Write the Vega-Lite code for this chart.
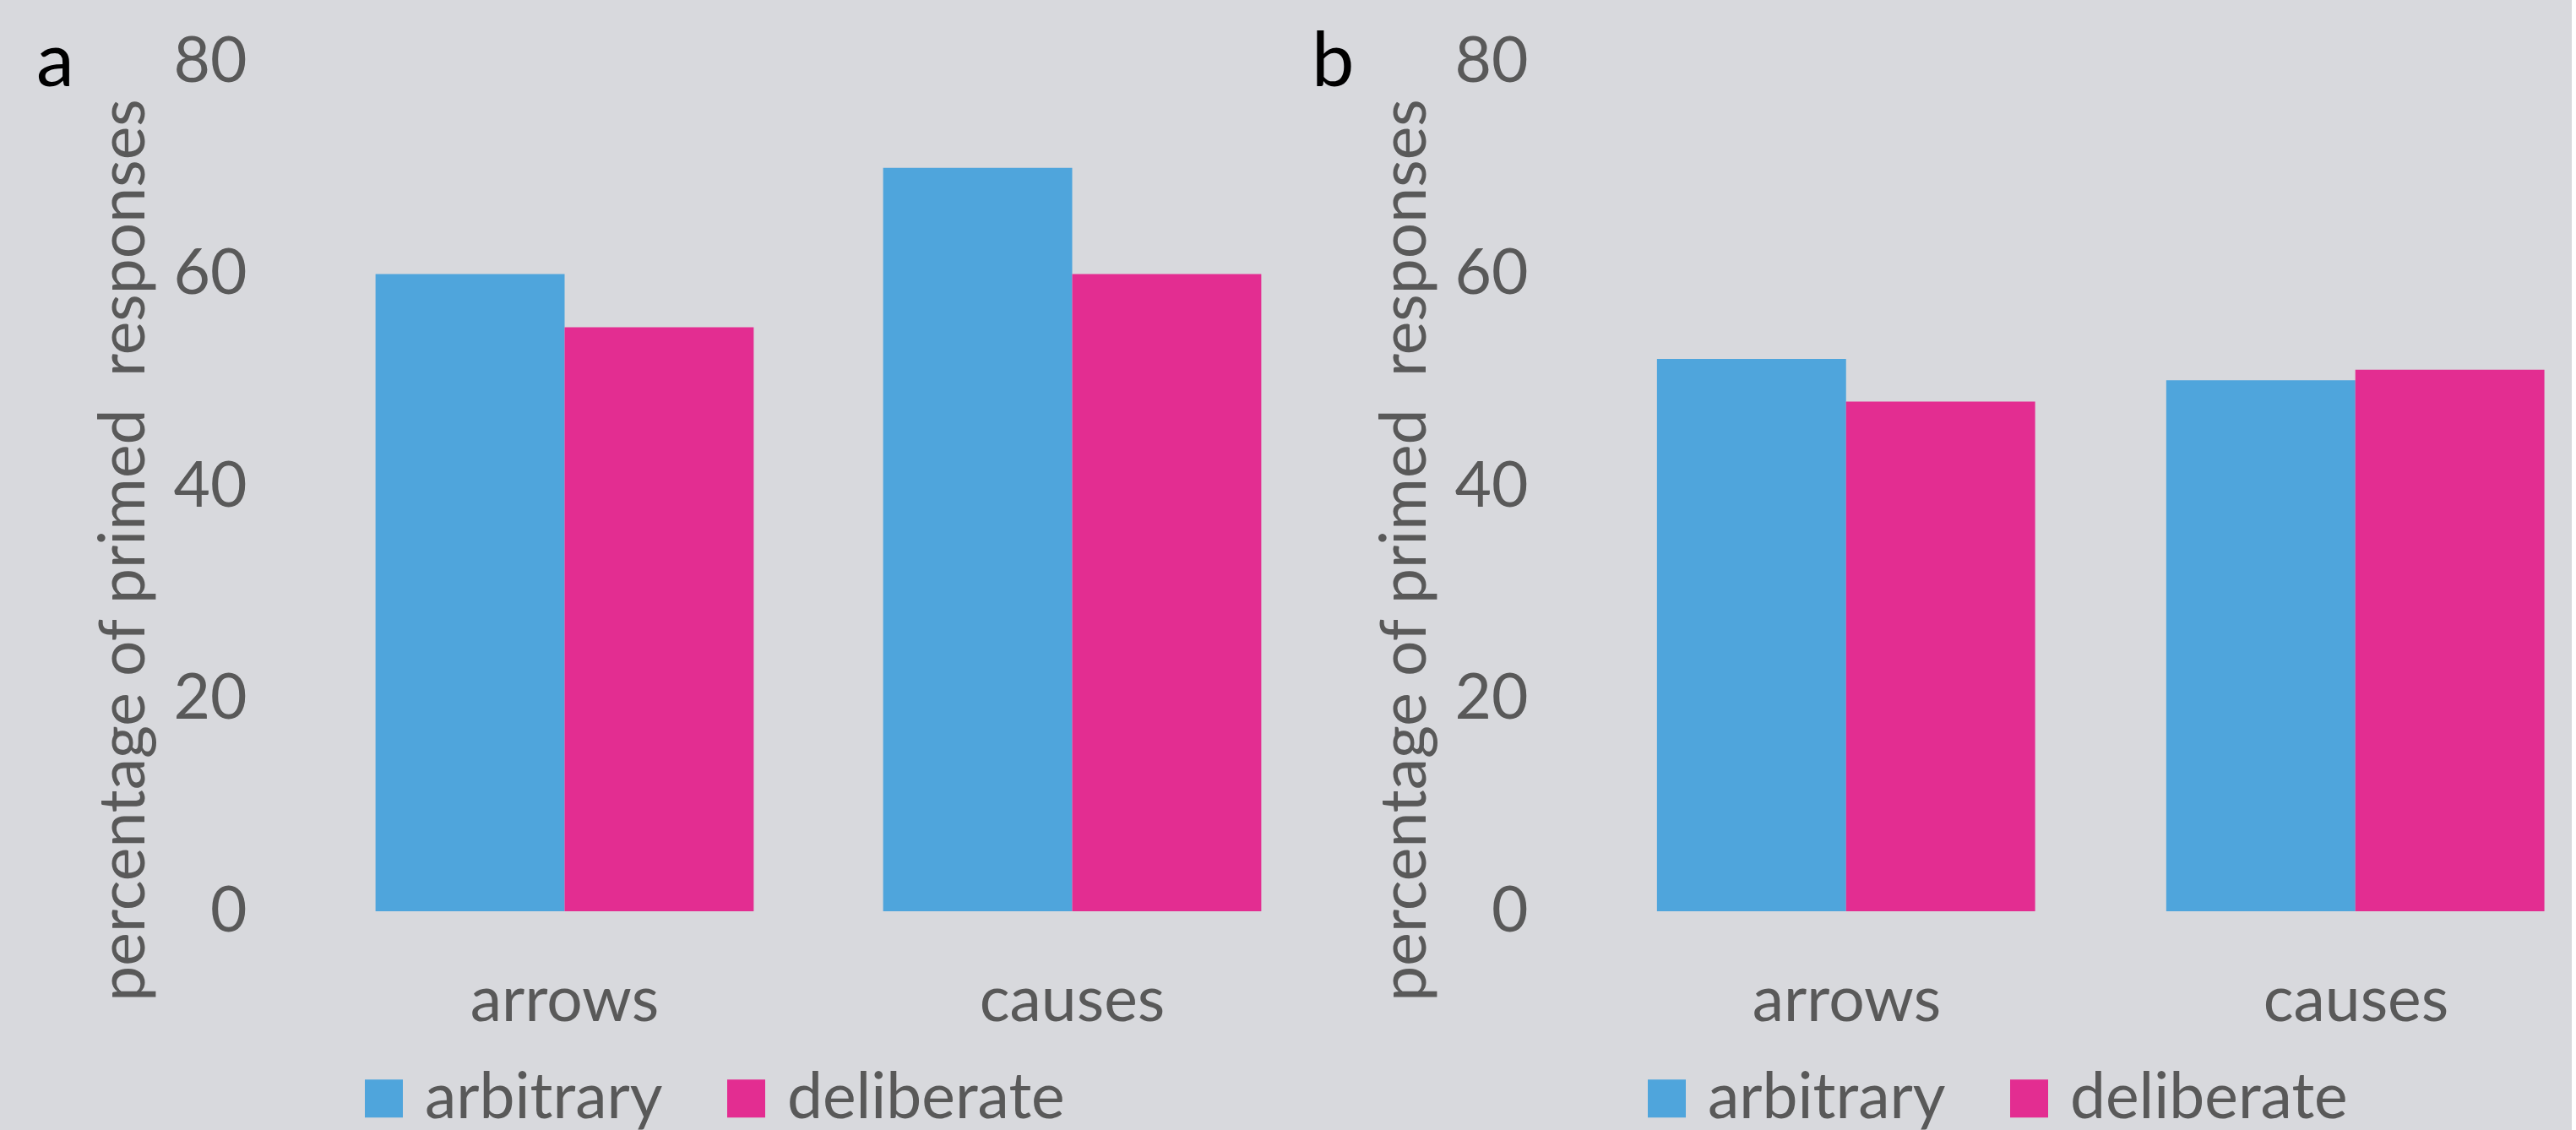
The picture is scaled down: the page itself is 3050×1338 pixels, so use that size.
{
  "$schema": "https://vega.github.io/schema/vega-lite/v6.json",
  "background": "#d8d9dd",
  "padding": {"left": 43, "top": 30, "right": 0, "bottom": 0},
  "bounds": "flush",
  "spacing": 315,
  "config": {
    "font": "Lato",
    "view": {"stroke": null},
    "title": {"font": "Lato"},
    "axisY": {
      "domain": false, "ticks": false, "tickSize": 0, "grid": false,
      "labelFontSize": 75, "labelColor": "#595959", "labelPadding": 76,
      "titleFontSize": 75, "titleColor": "#595959", "titleFontWeight": "normal",
      "titleX": -198, "titleY": 578, "titleAngle": 270, "titleAlign": "center", "titleBaseline": "alphabetic"
    },
    "axisX": {
      "domain": false, "ticks": false, "tickSize": 0, "grid": false,
      "labelFontSize": 75, "labelColor": "#595959", "labelPadding": 129,
      "labelBaseline": "alphabetic", "labelAngle": 0, "labelLimit": 0
    },
    "legend": {
      "orient": "none", "direction": "horizontal", "title": null,
      "symbolType": "square", "symbolSize": 2025, "symbolStrokeWidth": 0, "symbolOpacity": 1,
      "labelFontSize": 75, "labelColor": "#595959", "labelOffset": 11, "columnPadding": 61, "padding": 0, "labelLimit": 0
    }
  },
  "datasets": {
    "a": [
      {"stimulus": "arrows", "condition": "arbitrary", "pct": 60},
      {"stimulus": "arrows", "condition": "deliberate", "pct": 55},
      {"stimulus": "causes", "condition": "arbitrary", "pct": 70},
      {"stimulus": "causes", "condition": "deliberate", "pct": 60}
    ],
    "b": [
      {"stimulus": "arrows", "condition": "arbitrary", "pct": 52},
      {"stimulus": "arrows", "condition": "deliberate", "pct": 48},
      {"stimulus": "causes", "condition": "arbitrary", "pct": 50},
      {"stimulus": "causes", "condition": "deliberate", "pct": 51}
    ]
  },
  "hconcat": [
    {
      "data": {"name": "a"},
      "width": 1202,
      "height": 1006,
      "title": {"text": "a", "anchor": "start", "frame": "group", "fontSize": 90, "fontWeight": "normal", "color": "#000000", "baseline": "alphabetic", "dx": -325, "dy": 156, "offset": 0},
      "mark": {"type": "bar"},
      "encoding": {
        "x": {"field": "stimulus", "type": "nominal", "sort": ["arrows", "causes"], "scale": {"paddingInner": 0.255, "paddingOuter": 0.1275}, "axis": {"title": null}},
        "xOffset": {"field": "condition", "type": "nominal", "sort": ["arbitrary", "deliberate"], "scale": {"paddingInner": 0, "paddingOuter": 0}},
        "y": {"field": "pct", "type": "quantitative", "scale": {"domain": [0, 80]}, "axis": {"title": "percentage of primed\u00a0 responses", "values": [0, 20, 40, 60, 80]}},
        "color": {"field": "condition", "type": "nominal", "scale": {"domain": ["arbitrary", "deliberate"], "range": ["#4fa5dc", "#e32d91"]}, "legend": {"legendX": 49, "legendY": 1190}}
      }
    },
    {
      "data": {"name": "b"},
      "width": 1160,
      "height": 1006,
      "title": {"text": "b", "anchor": "start", "frame": "group", "fontSize": 90, "fontWeight": "normal", "color": "#000000", "baseline": "alphabetic", "dx": -332, "dy": 156, "offset": 0},
      "mark": {"type": "bar"},
      "encoding": {
        "x": {"field": "stimulus", "type": "nominal", "sort": ["arrows", "causes"], "scale": {"paddingInner": 0.255, "paddingOuter": 0.0894, "align": 0.713}, "axis": {"title": null}},
        "xOffset": {"field": "condition", "type": "nominal", "sort": ["arbitrary", "deliberate"], "scale": {"paddingInner": 0, "paddingOuter": 0}},
        "y": {"field": "pct", "type": "quantitative", "scale": {"domain": [0, 80]}, "axis": {"title": "percentage of primed\u00a0 responses", "values": [0, 20, 40, 60, 80]}},
        "color": {"field": "condition", "type": "nominal", "scale": {"domain": ["arbitrary", "deliberate"], "range": ["#4fa5dc", "#e32d91"]}, "legend": {"legendX": 51, "legendY": 1190}}
      }
    }
  ],
  "resolve": {"scale": {"x": "independent", "y": "independent", "color": "independent"}, "legend": {"color": "independent"}}
}
